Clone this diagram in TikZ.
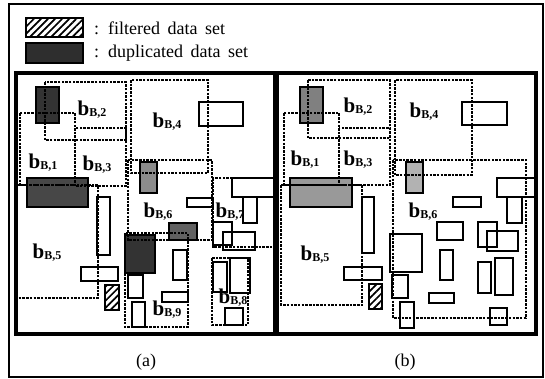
\documentclass[tikz,border=0pt]{standalone}
\usepackage{fontspec}
\setmainfont{Liberation Serif}
\usetikzlibrary{patterns.meta}
\tikzset{blk/.style = {draw, dash pattern=on 2.5pt off 1.2pt, line width=1.1pt},
         item/.style = {draw, line width=1.5pt},
         dup/.style = {draw, line width=1.4pt, fill=black!75},
         filt/.style = {draw, line width=1.4pt, pattern={Lines[angle=45,distance=5pt,line width=1.7pt]}},
         panel/.style = {draw, line width=3.8pt},
         lbl/.style = {font=\bfseries, inner sep=0pt},
         captxt/.style = {font=\fontsize{18}{20}\selectfont, inner sep=0pt},
}
\newcommand{\blab}[1]{{\fontsize{21}{22}\selectfont b}\raisebox{-1pt}{\fontsize{12}{13}\selectfont B,#1}}

\begin{document}
\begin{tikzpicture}[x=1pt, y=-1pt]
  \useasboundingbox (0,0) rectangle (545,378);
  \draw[line width=1.1pt] (9,4) rectangle (543,377);

  % legend
  \draw[filt] (26,18) rectangle (83,37);
  \draw[dup, fill=black!82] (26,43) rectangle (83,63);
  \node[captxt, anchor=west] (legF) at (94,28) {:\enspace filtered\, data\, set};
  \node[captxt, anchor=west] (legD) at (94,53) {:\enspace duplicated\, data\, set};

  % panel (a)
  \draw[dup, fill=black!80] (36,87) rectangle (59,123);
  \draw[dup, fill=black!72] (27,178) rectangle (88,207);
  \draw[dup, fill=black!45] (140,162) rectangle (157,193);
  \draw[dup, fill=black!62] (169,223) rectangle (197,240);
  \draw[dup, fill=black!80] (125,235) rectangle (155,273);
  \draw[filt] (105,285) rectangle (119,310);

  \draw[item] (199,102) rectangle (243,126);
  \draw[item] (97,197) rectangle (110,255);
  \draw[item] (187,198) rectangle (213,207);
  \draw[item] (232,178) rectangle (274,197);
  \draw[item] (243,197) rectangle (257,223);
  \draw[item] (213,222) rectangle (232,245);
  \draw[item] (223,232) rectangle (255,250);
  \draw[item] (81,267) rectangle (118,281);
  \draw[item] (173,250) rectangle (187,280);
  \draw[item] (128,275) rectangle (143,298);
  \draw[item] (162,292) rectangle (188,302);
  \draw[item] (132,302) rectangle (145,327);
  \draw[item] (213,262) rectangle (227,292);
  \draw[item] (230,258) rectangle (250,293);
  \draw[item] (225,308) rectangle (243,325);

  \draw[blk] (20,113) rectangle (75,185);
  \draw[blk] (45,82) rectangle (126,140);
  \draw[blk] (75,128) rectangle (126,186);
  \draw[blk] (131,80) rectangle (208,173);
  \draw[blk] (17,185) rectangle (98,298);
  \draw[blk] (128,160) rectangle (212,240);
  \draw[blk] (213,178) rectangle (274,247);
  \draw[blk] (212,258) rectangle (248,325);
  \draw[blk] (125,233) rectangle (188,327);

  \node[lbl] (a2) at (92,110) {\blab{2}};
  \node[lbl] (a1) at (43,163) {\blab{1}};
  \node[lbl] (a3) at (97,165) {\blab{3}};
  \node[lbl] (a4) at (167,122) {\blab{4}};
  \node[lbl] (a6) at (158,212) {\blab{6}};
  \node[lbl] (a7) at (230,212) {\blab{7}};
  \node[lbl] (a5) at (47,253) {\blab{5}};
  \node[lbl] (a9) at (167,310) {\blab{9}};
  \node[lbl] (a8) at (233,298) {\blab{8}};

  % panel (b)
  \draw[dup, fill=black!50] (300,87) rectangle (323,123);
  \draw[dup, fill=black!40] (290,178) rectangle (352,207);
  \draw[dup, fill=black!30] (406,162) rectangle (423,193);
  \draw[filt] (369,284) rectangle (382,309);

  \draw[item] (462,102) rectangle (507,125);
  \draw[item] (362,197) rectangle (374,253);
  \draw[item] (453,197) rectangle (481,207);
  \draw[item] (497,178) rectangle (536,197);
  \draw[item] (507,197) rectangle (522,223);
  \draw[item] (478,222) rectangle (497,247);
  \draw[item] (487,231) rectangle (518,251);
  \draw[item] (344,267) rectangle (382,280);
  \draw[item] (440,250) rectangle (453,280);
  \draw[item] (392,275) rectangle (408,298);
  \draw[item] (429,293) rectangle (454,303);
  \draw[item] (400,302) rectangle (414,328);
  \draw[item] (478,262) rectangle (491,293);
  \draw[item] (495,258) rectangle (513,295);
  \draw[item] (490,308) rectangle (507,325);
  \draw[item] (390,234) rectangle (422,272);
  \draw[item] (437,222) rectangle (463,240);

  \draw[blk] (284,113) rectangle (339,185);
  \draw[blk] (308,80) rectangle (390,138);
  \draw[blk] (339,128) rectangle (390,185);
  \draw[blk] (395,80) rectangle (472,175);
  \draw[blk] (281,185) rectangle (362,305);
  \draw[blk] (393,160) rectangle (526,318);

  \node[lbl] (b2) at (358,107) {\blab{2}};
  \node[lbl] (b1) at (305,160) {\blab{1}};
  \node[lbl] (b3) at (358,160) {\blab{3}};
  \node[lbl] (b4) at (424,112) {\blab{4}};
  \node[lbl] (b6) at (423,212) {\blab{6}};
  \node[lbl] (b5) at (315,255) {\blab{5}};

  % frames and captions
  \draw[panel] (16,73) rectangle (275,334);
  \draw[panel] (277,73) rectangle (536,334);
  \node[captxt] (capA) at (146,362) {(a)};
  \node[captxt] (capB) at (405,362) {(b)};
\end{tikzpicture}
\end{document}
